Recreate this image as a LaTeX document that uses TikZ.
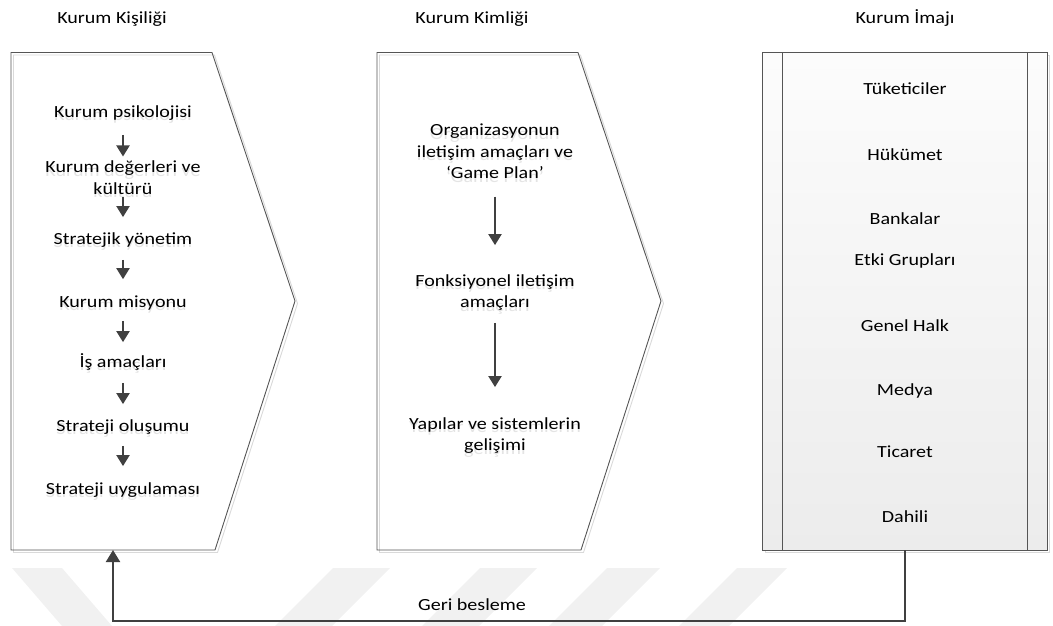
\documentclass[tikz,border=0pt]{standalone}
\usepackage{fontspec}
\setmainfont{Carlito}[FakeStretch=1.18]
\usetikzlibrary{arrows.meta}

\definecolor{edge}{HTML}{555555}
\definecolor{edgeshadow}{HTML}{D9D9D9}
\definecolor{flow}{HTML}{404040}
\definecolor{ghostgray}{HTML}{E4E4E4}
\definecolor{wm}{HTML}{F1F1F1}
\definecolor{paneltop}{HTML}{FCFCFC}
\definecolor{panelbottom}{HTML}{ECECEC}

% fixed line strut: 15pt above the baseline, 1pt below
\newcommand\linestrut{\rule[-1pt]{0pt}{16pt}}
% text with a faint copy dropped just below it
\newcommand\ghosted[1]{\leavevmode\linestrut\rlap{\raisebox{-3.5pt}{\textcolor{ghostgray}{#1}}}#1}

\begin{document}
\begin{tikzpicture}[x=1pt,y=-1pt,
  every node/.style={font=\fontsize{17}{21.5}\selectfont, text=black},
  item/.style={inner xsep=2pt, inner ysep=0pt, text height=15pt, text depth=1pt, align=center},
  block/.style={inner xsep=2pt, inner ysep=0pt, align=center},
  title/.style={item},
  outline/.style={draw=edge, line width=0.9pt, line join=miter},
  outshadow/.style={draw=edgeshadow, line width=0.9pt},
  flowarrow/.style={draw=flow, line width=2pt, -{Triangle[width=13pt,length=11pt]}},
  feedback/.style={draw=flow, line width=2pt, -{Triangle[width=14pt,length=12pt]}},
  stripe/.style={fill=wm, draw=none}
]
\useasboundingbox (0,0) rectangle (1053,626);

% faint diagonal stripes along the bottom edge
\fill[stripe] (12,568) -- (62,568) -- (112,626) -- (62,626) -- cycle;
\fill[stripe] (333,568) -- (390,568) -- (332,626) -- (275,626) -- cycle;
\fill[stripe] (480,568) -- (537,568) -- (479,626) -- (422,626) -- cycle;
\fill[stripe] (607,568) -- (660,568) -- (602,626) -- (549,626) -- cycle;
\fill[stripe] (737,568) -- (787,568) -- (729,626) -- (679,626) -- cycle;

% column titles
\node[title] (t1) at (112,17) {Kurum Kişiliği};
\node[title] (t2) at (472,17) {Kurum Kimliği};
\node[title] (t3) at (905,17) {Kurum İmajı};

% left chevron: corporate personality
\fill[white] (11,52.5) -- (212,52.5) -- (295,301) -- (215,550) -- (11,550) -- cycle;
\draw[outshadow, shift={(2.5,2.5)}] (11,52.5) -- (212,52.5) -- (295,301) -- (215,550) -- (11,550) -- cycle;
\draw[outline] (11,52.5) -- (212,52.5) -- (295,301) -- (215,550) -- (11,550) -- cycle;
\coordinate (kisilikfoot) at (113,550);

% middle chevron: corporate identity
\fill[white] (377,52.5) -- (578,52.5) -- (661,301) -- (581,550) -- (377,550) -- cycle;
\draw[outshadow, shift={(2.5,2.5)}] (377,52.5) -- (578,52.5) -- (661,301) -- (581,550) -- (377,550) -- cycle;
\draw[outline] (377,52.5) -- (578,52.5) -- (661,301) -- (581,550) -- (377,550) -- cycle;

% right panel: corporate image
\draw[outshadow, shift={(2.5,2.5)}] (762.7,52.7) rectangle (1047,550);
\node[outline, inner sep=0pt, minimum width=284.3pt, minimum height=497.3pt,
      top color=paneltop, bottom color=panelbottom] (imaj) at (904.85,301.35) {};
\draw[outline] ([xshift=20.3pt]imaj.north west) -- ([xshift=20.3pt]imaj.south west);
\draw[outline] ([xshift=-20pt]imaj.north east) -- ([xshift=-20pt]imaj.south east);

% left column steps
\node[block] (k1) at (123,113) {\ghosted{Kurum psikolojisi}};
\node[block] (k2) at (123,177.75) {\ghosted{Kurum değerleri ve}\\\ghosted{kültürü}};
\node[block] (k3) at (123,240) {\ghosted{Stratejik yönetim}};
\node[block] (k4) at (123,303) {\ghosted{Kurum misyonu}};
\node[block] (k5) at (123,363) {\ghosted{İş amaçları}};
\node[block] (k6) at (123,427) {\ghosted{Strateji oluşumu}};
\node[block] (k7) at (123,490) {\ghosted{Strateji uygulaması}};

\draw[flowarrow] ([yshift=-11pt]k1.south) -- ([yshift=1pt]k2.north);
\draw[flowarrow] ([yshift=1.5pt]k2.south) -- ([yshift=12pt]k3.north);
\draw[flowarrow] ([yshift=-9pt]k3.south) -- ([yshift=13pt]k4.north);
\draw[flowarrow] ([yshift=-7pt]k4.south) -- ([yshift=10pt]k5.north);
\draw[flowarrow] ([yshift=-9pt]k5.south) -- ([yshift=12pt]k6.north);
\draw[flowarrow] ([yshift=-8pt]k6.south) -- ([yshift=13pt]k7.north);

% middle column steps
\node[block] (m1) at (495,151.5) {\ghosted{Organizasyonun}\\\ghosted{iletişim amaçları ve}\\\ghosted{‘Game Plan’}};
\node[block] (m2) at (495,292.75) {\ghosted{Fonksiyonel iletişim}\\\ghosted{amaçları}};
\node[block] (m3) at (495,435.75) {\ghosted{Yapılar ve sistemlerin}\\\ghosted{gelişimi}};

\draw[flowarrow] ([yshift=-14pt]m1.south) -- ([yshift=26pt]m2.north);
\draw[flowarrow] ([yshift=-8.5pt]m2.south) -- ([yshift=27pt]m3.north);

% right column publics
\node[item] (r1) at (905,88) {Tüketiciler};
\node[item] (r2) at (905,153) {Hükümet};
\node[item] (r3) at (905,217) {Bankalar};
\node[item] (r4) at (905,258) {Etki Grupları};
\node[item] (r5) at (905,324) {Genel Halk};
\node[item] (r6) at (905,388) {Medya};
\node[item] (r7) at (905,450) {Ticaret};
\node[item] (r8) at (905,515) {Dahili};

% feedback loop from image back to personality
\draw[feedback] (imaj.south) -- ++(0,71) -| (kisilikfoot);
\node[item] (geri) at (472,603) {Geri besleme};
\end{tikzpicture}
\end{document}
